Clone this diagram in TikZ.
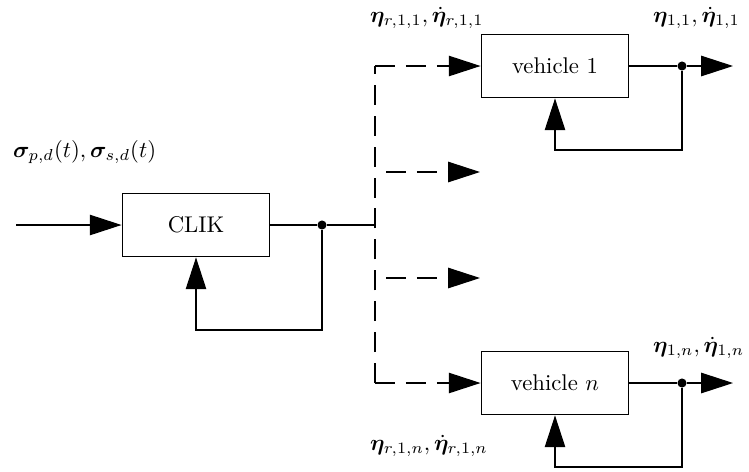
\documentclass[tikz,border=0pt]{standalone}
\usepackage{amsmath,bm}
\usetikzlibrary{arrows.meta,calc}
\begin{document}
\begin{tikzpicture}[x=0.44pt, y=-0.44pt, line width=0.5pt,
    block/.style={draw, minimum width=65pt, minimum height=28pt, inner sep=0pt},
    arrow/.style={-{Triangle[length=14pt, width=9pt]}},
    dashline/.style={dash pattern=on 8.8pt off 4.8pt},
    dot/.style={circle, fill, inner sep=0pt, minimum size=4pt}]
  \useasboundingbox (0,0) rectangle (749,471);
  % reference generator
  \coordinate (in) at (16,225);
  \node[block] (clik) at (196,225) {CLIK};
  \node[dot] (split) at (322,225) {};
  \coordinate (bus) at (375,225);
  \coordinate (bustop) at (375,66);
  \coordinate (busbot) at (375,383);
  \draw[arrow] (in) -- (clik);
  \draw[line width=0.9pt] (clik) -- (split) -- (bus);
  \draw[arrow] (split) |- (196,330) -- (clik.south);
  \node[anchor=west] (sigma) at (5,152) {$\bm{\sigma}_{p,d}(t), \bm{\sigma}_{s,d}(t)$};
  % vehicles
  \node[block] (veh1) at (555,66) {vehicle 1};
  \node[block] (vehn) at (555,383) {vehicle $n$};
  \draw[dashline, line width=0.9pt] (busbot) -- (bustop);
  \draw[arrow, dashline] (bustop) -- (veh1);
  \draw[arrow, dashline] (busbot) -- (vehn);
  \coordinate (mid1) at (386,172);
  \coordinate (mid2) at (386,278);
  \draw[arrow, dashline] (mid1) -- +(94,0);
  \draw[arrow, dashline] (mid2) -- +(94,0);
  % outputs with feedback
  \node[dot] (out1) at (682,66) {};
  \node[dot] (outn) at (682,383) {};
  \draw (veh1) -- (out1);
  \draw[arrow] (out1) -- (733,66);
  \draw[arrow] (out1) |- (555,150) -- (veh1.south);
  \draw (vehn) -- (outn);
  \draw[arrow] (outn) -- (733,383);
  \draw[arrow] (outn) |- (555,467) -- (vehn.south);
  % signal labels
  \node[anchor=west] (ref1) at (362,18) {$\bm{\eta}_{r,1,1}, \dot{\bm{\eta}}_{r,1,1}$};
  \node[anchor=west] (eta1) at (645,18) {$\bm{\eta}_{1,1}, \dot{\bm{\eta}}_{1,1}$};
  \node[anchor=west] (etan) at (645,348) {$\bm{\eta}_{1,n}, \dot{\bm{\eta}}_{1,n}$};
  \node[anchor=west] (refn) at (362,446) {$\bm{\eta}_{r,1,n}, \dot{\bm{\eta}}_{r,1,n}$};
\end{tikzpicture}
\end{document}
